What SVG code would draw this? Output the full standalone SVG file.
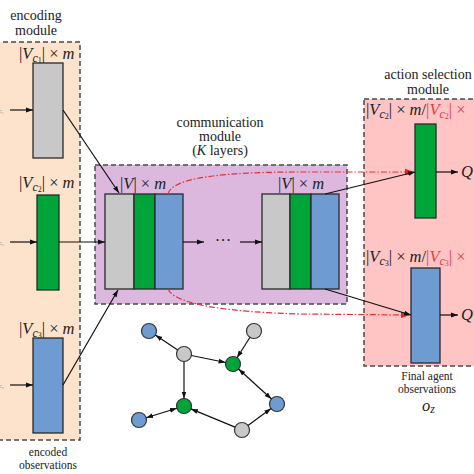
<svg xmlns="http://www.w3.org/2000/svg" width="474" height="474" viewBox="0 0 474 474">
<defs>
<marker id="ah" viewBox="0 0 10 10" refX="10" refY="5" markerWidth="7" markerHeight="7" markerUnits="userSpaceOnUse" orient="auto-start-reverse"><path d="M0,1.5 L10,5 L0,8.5 z" fill="#111"/></marker>
<marker id="ahr" viewBox="0 0 10 10" refX="10" refY="5" markerWidth="9" markerHeight="9" markerUnits="userSpaceOnUse" orient="auto"><path d="M0,1.5 L10,5 L0,8.5 z" fill="#e8202a"/></marker>
</defs>
<style>
.mod{stroke:#4a4a4a;stroke-width:1.5;stroke-dasharray:5,3}
.bar{stroke:#2a2a2a;stroke-width:1.3}
.g{fill:#c8c8c8}.gr{fill:#00a53a}.bl{fill:#6d9bd2}
.t{font-family:"Liberation Serif","DejaVu Serif",serif;font-size:14px;fill:#222;text-anchor:middle}
.ts{font-family:"Liberation Serif","DejaVu Serif",serif;font-size:11.5px;fill:#222;text-anchor:middle}
.m{font-family:"Liberation Serif","DejaVu Serif",serif;font-size:16.5px;fill:#222}
.i{font-style:italic}
.sb{font-size:12px;font-style:italic}
.sb2{font-size:8px}
.red{fill:#e0404a}
.ln{stroke:#111;stroke-width:1.2;fill:none}
.rd{stroke:#e8303a;stroke-width:1.2;fill:none;stroke-dasharray:6,2,1.5,2}
.nd{stroke:#333;stroke-width:1.2}
.tiny{font-family:"Liberation Serif",serif;font-size:6px;fill:#777}
</style>

<g id="encoding-module">
<rect x="-5" y="42" width="85" height="398" fill="#fde3cc" class="mod"/>
<text class="t" x="36" y="20">encoding</text>
<text class="t" x="36" y="35">module</text>
<text class="ts" x="48" y="456">encoded</text>
<text class="ts" x="48" y="469">observations</text>
</g>

<g id="enc-c1">
<text class="m" x="19" y="59">|<tspan class="i">V</tspan><tspan class="sb" dy="3">c</tspan><tspan class="sb2" dy="1">1</tspan><tspan dy="-4">| × </tspan><tspan class="i">m</tspan></text>
<rect x="33" y="63" width="30" height="95" class="bar g"/>
</g>
<g id="enc-c2">
<text class="m" x="19" y="188">|<tspan class="i">V</tspan><tspan class="sb" dy="3">c</tspan><tspan class="sb2" dy="1">2</tspan><tspan dy="-4">| × </tspan><tspan class="i">m</tspan></text>
<rect x="37" y="195" width="22" height="95" class="bar gr"/>
</g>
<g id="enc-c3">
<text class="m" x="19" y="334">|<tspan class="i">V</tspan><tspan class="sb" dy="3">c</tspan><tspan class="sb2" dy="1">3</tspan><tspan dy="-4">| × </tspan><tspan class="i">m</tspan></text>
<rect x="33" y="338" width="30" height="95" class="bar bl"/>
</g>

<g id="inputs">
<text class="tiny" x="-1" y="113">c₁</text>
<text class="tiny" x="-1" y="245">c₂</text>
<text class="tiny" x="-1" y="388">c₃</text>
</g>

<g id="communication-module">
<rect x="95" y="165" width="252" height="139" fill="#dcb8de" class="mod"/>
<text class="t" x="220" y="127">communication</text>
<text class="t" x="220" y="141">module</text>
<text class="t" x="220" y="155">(<tspan class="i">K</tspan>  layers)</text>
</g>

<g id="comm-layer-1">
<text class="m" x="120" y="189">|<tspan class="i">V</tspan>| × <tspan class="i">m</tspan></text>
<rect x="105" y="194" width="29" height="95" class="bar g"/>
<rect x="134" y="194" width="21" height="95" class="bar gr"/>
<rect x="155" y="194" width="28" height="95" class="bar bl"/>
</g>
<g id="comm-dots">
<text class="m" x="223" y="246" text-anchor="middle">···</text>
</g>
<g id="comm-layer-K">
<text class="m" x="278" y="189">|<tspan class="i">V</tspan>| × <tspan class="i">m</tspan></text>
<rect x="262" y="194" width="28" height="95" class="bar g"/>
<rect x="290" y="194" width="21" height="95" class="bar gr"/>
<rect x="311" y="194" width="28" height="95" class="bar bl"/>
</g>

<g id="action-selection-module">
<rect x="364" y="99" width="120" height="267" fill="#ffc4c4" class="mod"/>
<text class="t" x="428" y="79">action selection</text>
<text class="t" x="428" y="94">module</text>
<text class="ts" x="427" y="380">Final agent</text>
<text class="ts" x="427" y="393">observations</text>
<text class="m i" x="422" y="411" font-size="13">o<tspan class="sb" dy="2" font-size="8">z</tspan></text>
</g>
<g id="act-c2">
<text class="m" x="366" y="115">|<tspan class="i">V</tspan><tspan class="sb" dy="3">c</tspan><tspan class="sb2" dy="1">2</tspan><tspan dy="-4">| × </tspan><tspan class="i">m</tspan>/<tspan class="red">|</tspan><tspan class="red i">V</tspan><tspan class="sb red" dy="3">c</tspan><tspan class="sb2 red" dy="1">2</tspan><tspan class="red" dy="-4">| ×</tspan></text>
<rect x="415" y="124" width="21" height="94" class="bar gr"/>
<text class="m i" x="461" y="177">Q</text>
</g>
<g id="act-c3">
<text class="m" x="366" y="262">|<tspan class="i">V</tspan><tspan class="sb" dy="3">c</tspan><tspan class="sb2" dy="1">3</tspan><tspan dy="-4">| × </tspan><tspan class="i">m</tspan>/<tspan class="red">|</tspan><tspan class="red i">V</tspan><tspan class="sb red" dy="3">c</tspan><tspan class="sb2 red" dy="1">3</tspan><tspan class="red" dy="-4">| ×</tspan></text>
<rect x="411" y="268" width="29" height="95" class="bar bl"/>
<text class="m i" x="461" y="320">Q</text>
</g>

<g id="graph-nodes">
<g id="n-a"><circle cx="149" cy="331" r="7.5" class="nd bl"/></g>
<g id="n-b"><circle cx="184" cy="354" r="7.5" class="nd g"/></g>
<g id="n-c"><circle cx="254" cy="331" r="7.5" class="nd g"/></g>
<g id="n-d"><circle cx="233" cy="364" r="7.5" class="nd gr"/></g>
<g id="n-e"><circle cx="184" cy="406" r="7.5" class="nd gr"/></g>
<g id="n-f"><circle cx="139" cy="420" r="7.5" class="nd bl"/></g>
<g id="n-g"><circle cx="277" cy="404" r="7.5" class="nd bl"/></g>
<g id="n-h"><circle cx="242" cy="430" r="7.5" class="nd g"/></g>
</g>

<g id="connectors">
<line x1="10" y1="110" x2="33" y2="110" class="ln" marker-end="url(#ah)"/>
<line x1="10" y1="242" x2="37" y2="242" class="ln" marker-end="url(#ah)"/>
<line x1="10" y1="385" x2="33" y2="385" class="ln" marker-end="url(#ah)"/>
<line x1="63" y1="110" x2="119" y2="193" class="ln" marker-end="url(#ah)"/>
<line x1="59" y1="242" x2="105" y2="242" class="ln" marker-end="url(#ah)"/>
<line x1="63" y1="385" x2="118" y2="290" class="ln" marker-end="url(#ah)"/>
<line x1="183" y1="242" x2="204" y2="242" class="ln" marker-end="url(#ah)"/>
<line x1="240" y1="242" x2="262" y2="242" class="ln" marker-end="url(#ah)"/>
<path d="M168,194 C172,178 220,172 300,172 L414,172" class="rd" marker-end="url(#ahr)"/>
<path d="M168,289 C175,305 230,312 300,314 L410,315" class="rd" marker-end="url(#ahr)"/>
<line x1="325" y1="194" x2="415" y2="172" class="ln" marker-end="url(#ah)"/>
<line x1="325" y1="289" x2="411" y2="315" class="ln" marker-end="url(#ah)"/>
<line x1="436" y1="172" x2="458" y2="172" class="ln" marker-end="url(#ah)"/>
<line x1="440" y1="315" x2="458" y2="315" class="ln" marker-end="url(#ah)"/>
<line x1="177.7" y1="349.9" x2="155.3" y2="335.1" class="ln" marker-end="url(#ah)"/>
<line x1="191.4" y1="355.5" x2="225.6" y2="362.5" class="ln" marker-end="url(#ah)"/>
<line x1="184" y1="361.5" x2="184" y2="398.5" class="ln" marker-end="url(#ah)"/>
<line x1="250" y1="337.3" x2="237" y2="357.7" class="ln" marker-end="url(#ah)"/>
<line x1="238.5" y1="369" x2="271.5" y2="399" class="ln" marker-start="url(#ah)" marker-end="url(#ah)"/>
<line x1="176.8" y1="408.2" x2="146.2" y2="417.8" class="ln" marker-start="url(#ah)" marker-end="url(#ah)"/>
<line x1="235" y1="427.1" x2="190.9" y2="408.9" class="ln" marker-end="url(#ah)"/>
<line x1="248" y1="425.5" x2="271" y2="408.5" class="ln" marker-end="url(#ah)"/>
</g>
</svg>
